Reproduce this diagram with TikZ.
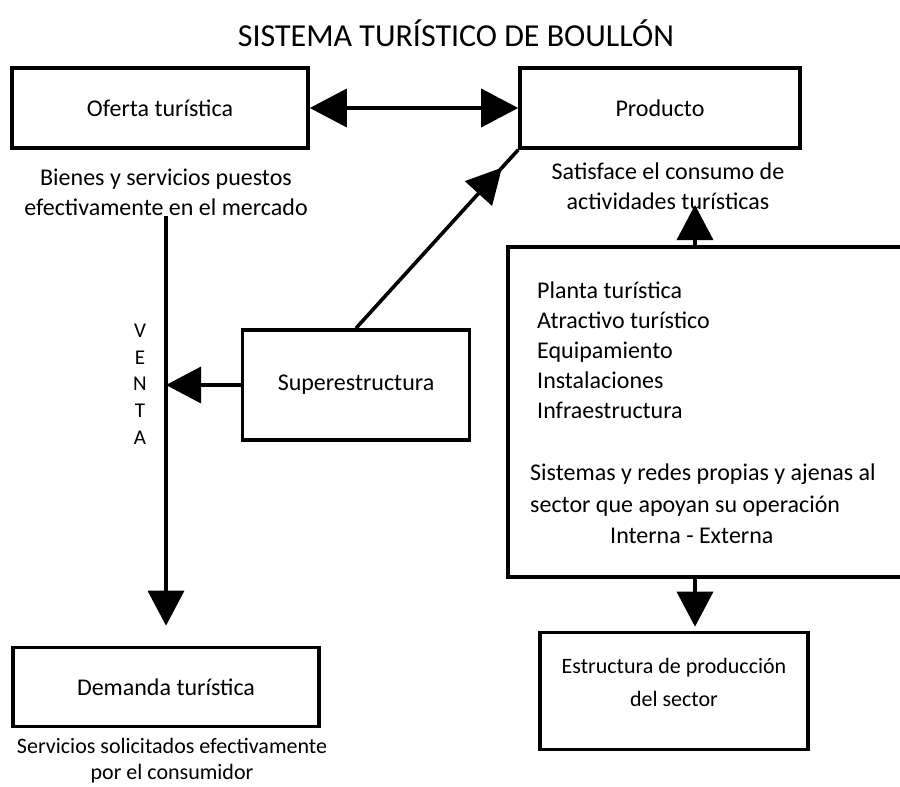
\documentclass[tikz,border=0pt]{standalone}
\usepackage{fontspec}
\setmainfont{Carlito}
\usetikzlibrary{arrows.meta,decorations.markings}

\tikzset{
  caja/.style={draw,line width=3.6pt,inner sep=0pt},
  txt/.style={font=\fontsize{24}{30}\selectfont,align=center,inner sep=0pt},
  flecha/.style={line width=3.6pt,-{Triangle[length=35pt,width=36pt]}},
}

\begin{document}
\begin{tikzpicture}[x=1pt,y=-1pt]
    \useasboundingbox (0,0) rectangle (900,787);
    \node[txt,font=\fontsize{32}{38}\selectfont,anchor=base] (titulo) at (456,46) {SISTEMA TURÍSTICO DE BOULLÓN};

    % cajas
    \node[caja,minimum width=296pt,minimum height=80pt,txt] (oferta) at (160,108) {Oferta turística};
    \node[caja,minimum width=280pt,minimum height=80pt,txt] (producto) at (660,108) {Producto};
    \node[caja,minimum width=306pt,minimum height=79pt,txt] (demanda) at (166,687) {Demanda turística};
    \node[caja,minimum width=227pt,minimum height=110pt,txt] (super) at (356,385) {Superestructura};
    \node[caja,minimum width=397pt,minimum height=330pt] (planta) at (706.5,412) {};
    \node[caja,minimum width=268pt,minimum height=117pt] (estructura) at (674,691) {};

    % textos
    \node[txt] (ofertaTxt) at (166,192) {Bienes y servicios puestos\\efectivamente en el mercado};
    \node[txt] (productoTxt) at (668,186) {Satisface el consumo de\\actividades turísticas};
    \node[txt,font=\fontsize{22}{26}\selectfont] (demandaTxt) at (172,761) {Servicios solicitados efectivamente\\por el consumidor};
    \node[txt,font=\fontsize{22}{33}\selectfont] (estructuraTxt) at (674,682) {Estructura de producción\\del sector};
    \node[txt,font=\fontsize{21}{26.7}\selectfont] (venta) at (140,384) {V\\E\\N\\T\\A};

    \foreach \item [count=\i] in {Planta turística,Atractivo turístico,Equipamiento,Instalaciones,Infraestructura}
      \node[txt,anchor=base west] (item\i) at (537,268+30*\i) {\item};
    \node[txt,anchor=base west] (sistemas) at (530,480) {Sistemas y redes propias y ajenas al};
    \node[txt,anchor=base west] (sector) at (530,512) {sector que apoyan su operación};
    \node[txt,anchor=base west] (interna) at (610,543) {Interna - Externa};

    \coordinate (tipProd) at (695,205);

    % flechas
    \draw[flecha,{Triangle[length=37pt,width=38pt]}-{Triangle[length=37pt,width=38pt]}] (oferta.east) -- (producto.west);
    \draw[flecha,shorten >=20pt] (ofertaTxt.south -| demanda.north) -- (demanda.north);
    \draw[flecha] (super.west) -- (super.west -| demanda.north);
    \draw[line width=3.6pt,postaction={decorate},
      decoration={markings,mark=at position 0.9 with {\arrow{Triangle[length=35pt,width=36pt]}}}]
      (super.north) -- (producto.south west);
    \draw[flecha] (planta.north -| tipProd) -- (tipProd);
    \draw[flecha,shorten >=4pt] (planta.south -| tipProd) -- (estructura.north -| tipProd);
  \end{tikzpicture}
\end{document}
